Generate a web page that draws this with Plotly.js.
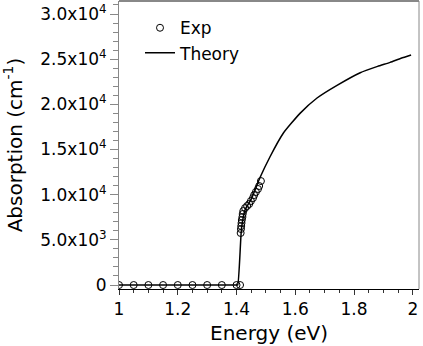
<!DOCTYPE html>
<html>
<head>
<meta charset="utf-8">
<script src="https://cdn.plot.ly/plotly-3.0.1.min.js"></script>
<style>
  html, body { margin: 0; padding: 0; background: #fff; }
  #plotly-div { width: 423px; height: 346px; }
</style>
</head>
<body>
<div id="plotly-div"></div>
<script>
// Experimental points (energy in eV, absorption in cm^-1)
const expEnergy = [1.0, 1.05, 1.10, 1.15, 1.20, 1.25, 1.30, 1.35, 1.40, 1.412,
                   1.414, 1.415, 1.416, 1.417, 1.418, 1.420, 1.421, 1.423,
                   1.429, 1.436, 1.443, 1.449, 1.456, 1.460, 1.466, 1.473, 1.477, 1.483];
const expAbs = [0, 0, 0, 0, 0, 0, 0, 0, 0, 0,
                5760, 6200, 6530, 6860, 7200, 7530, 7860, 8190,
                8520, 8750, 8970, 9300, 9630, 9960, 10300, 10630, 10960, 11510];

// Theory curve
const theoryEnergy = [1.0, 1.2, 1.40, 1.404, 1.417, 1.43, 1.45, 1.48, 1.514, 1.559,
                      1.616, 1.674, 1.742, 1.821, 1.88, 1.923, 1.96, 1.994];
const theoryAbs = [0, 0, 0, 0, 6300, 8400, 9500, 11900, 14200, 16800,
                   19000, 20700, 22100, 23500, 24200, 24650, 25100, 25460];

// Y tick labels
const yTickVals = [0, 5000, 10000, 15000, 20000, 25000, 30000];
const yTickText = ['0', '5.0x10<sup>3</sup>', '1.0x10<sup>4</sup>', '1.5x10<sup>4</sup>',
                   '2.0x10<sup>4</sup>', '2.5x10<sup>4</sup>', '3.0x10<sup>4</sup>'];

const font = 'DejaVu Sans, sans-serif';

const traceExp = {
    x: expEnergy,
    y: expAbs,
    type: 'scatter',
    mode: 'markers',
    marker: {symbol: 'circle-open', size: 7, color: 'black', line: {width: 1, color: 'black'}},
    name: 'Exp'
};

const traceTheory = {
    x: theoryEnergy,
    y: theoryAbs,
    type: 'scatter',
    mode: 'lines',
    line: {color: 'black', width: 1.5, shape: 'spline', smoothing: 0.5},
    name: 'Theory'
};

const layout = {
    width: 423,
    height: 346,
    margin: {l: 119, r: 4, t: 1, b: 57},
    paper_bgcolor: '#fff',
    plot_bgcolor: '#fff',
    font: {family: font, size: 17, color: '#000'},
    showlegend: true,
    legend: {
        x: 0.07, y: 0.968, xanchor: 'left', yanchor: 'top',
        bgcolor: 'rgba(0,0,0,0)',
        font: {family: font, size: 17},
        tracegroupgap: 0,
        itemwidth: 30
    },
    xaxis: {
        range: [1, 2.021],
        tickvals: [1, 1.2, 1.4, 1.6, 1.8, 2],
        ticktext: ['1', '1.2', '1.4', '1.6', '1.8', '2'],
        ticks: 'outside', ticklen: 5, tickcolor: '#333',
        minor: {dtick: 0.05, tick0: 1, ticks: 'outside', ticklen: 3, tickcolor: '#333'},
        showgrid: false, zeroline: false,
        showline: true, linecolor: '#000', linewidth: 1, mirror: false,
        tickfont: {family: font, size: 17},
        title: {text: 'Energy (eV)', font: {family: font, size: 20}, standoff: 7}
    },
    yaxis: {
        range: [-440, 31440],
        tickvals: yTickVals,
        ticktext: yTickText,
        ticks: 'outside', ticklen: 8, tickcolor: '#888',
        minor: {dtick: 1000, tick0: 0, ticks: 'outside', ticklen: 5, tickcolor: '#888'},
        showgrid: false, zeroline: false,
        showline: true, linecolor: '#888', linewidth: 1, mirror: false,
        tickfont: {family: font, size: 17},
        title: {text: 'Absorption (cm<sup>-1</sup>)', font: {family: font, size: 20}, standoff: 12}
    },
    shapes: [
        {type: 'line', xref: 'paper', yref: 'paper', x0: 0, x1: 1, y0: 1, y1: 1,
         line: {color: '#888', width: 2}},
        {type: 'line', xref: 'paper', yref: 'paper', x0: 1, x1: 1, y0: 0, y1: 1,
         line: {color: '#888', width: 1}}
    ]
};

Plotly.newPlot('plotly-div', [traceExp, traceTheory], layout, {displayModeBar: false, staticPlot: true});
</script>
</body>
</html>
